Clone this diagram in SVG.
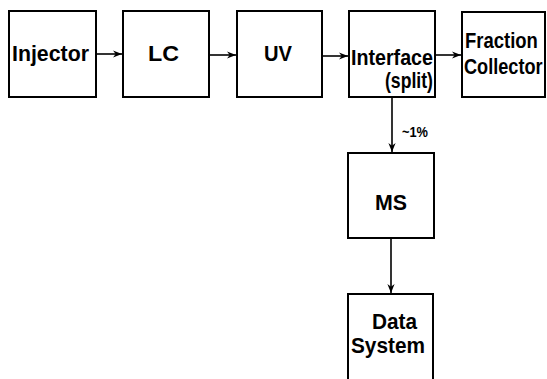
<svg xmlns="http://www.w3.org/2000/svg" width="547" height="379" viewBox="0 0 547 379">
<style>
.box{fill:#fff;stroke:#000;stroke-width:2}
.lbl{font-family:"Liberation Sans",Arial,sans-serif;font-weight:bold;font-size:22px;fill:#000}
.sm{font-family:"Liberation Sans",Arial,sans-serif;font-weight:bold;font-size:15px;fill:#000}
.con{fill:none;stroke:#000;stroke-width:1.6}
</style>
<defs>
<marker id="ah" viewBox="0 0 10 10" refX="10" refY="5" markerWidth="9" markerHeight="9" markerUnits="userSpaceOnUse" orient="auto">
<path d="M0,1 L10,5 L0,9 L3,5 Z" fill="#000"/>
</marker>
</defs>
<rect width="547" height="379" fill="#fff"/>
<g id="injector">
<rect class="box" x="9" y="11" width="87" height="86"/>
<text class="lbl" x="12" y="61" textLength="77" lengthAdjust="spacingAndGlyphs">Injector</text>
</g>
<g id="lc">
<rect class="box" x="123" y="11" width="86" height="86"/>
<text class="lbl" x="148" y="61" textLength="31" lengthAdjust="spacingAndGlyphs">LC</text>
</g>
<g id="uv">
<rect class="box" x="237" y="11" width="85" height="86"/>
<text class="lbl" x="264" y="61" textLength="28" lengthAdjust="spacingAndGlyphs">UV</text>
</g>
<g id="interface">
<rect class="box" x="349" y="11" width="86" height="86"/>
<text class="lbl" x="351" y="65" textLength="82" lengthAdjust="spacingAndGlyphs">Interface</text>
<text class="lbl" x="385" y="88" textLength="48" lengthAdjust="spacingAndGlyphs">(split)</text>
</g>
<g id="fraction-collector">
<rect class="box" x="462" y="12" width="83" height="85"/>
<text class="lbl" transform="translate(465,48) scale(0.84,1)">Fraction</text>
<text class="lbl" transform="translate(464,74) scale(0.825,1)">Collector</text>
</g>
<g id="ms">
<rect class="box" x="348" y="153" width="86" height="85"/>
<text class="lbl" x="375" y="210" textLength="32" lengthAdjust="spacingAndGlyphs">MS</text>
</g>
<g id="data-system">
<rect class="box" x="348" y="294" width="85" height="100"/>
<text class="lbl" x="372" y="329" textLength="45" lengthAdjust="spacingAndGlyphs">Data</text>
<text class="lbl" x="351" y="353" textLength="74" lengthAdjust="spacingAndGlyphs">System</text>
</g>
<g id="connectors">
<line class="con" x1="96" y1="54" x2="122" y2="54" marker-end="url(#ah)"/>
<line class="con" x1="209" y1="55" x2="236" y2="55" marker-end="url(#ah)"/>
<line class="con" x1="322" y1="56" x2="348" y2="56" marker-end="url(#ah)"/>
<line class="con" x1="435" y1="55" x2="461" y2="55" marker-end="url(#ah)"/>
<line class="con" x1="392" y1="97" x2="392" y2="152" marker-end="url(#ah)"/>
<text class="sm" x="402" y="137" textLength="26" lengthAdjust="spacingAndGlyphs">~1%</text>
<line class="con" x1="391" y1="238" x2="391" y2="293" marker-end="url(#ah)"/>
</g>
</svg>
